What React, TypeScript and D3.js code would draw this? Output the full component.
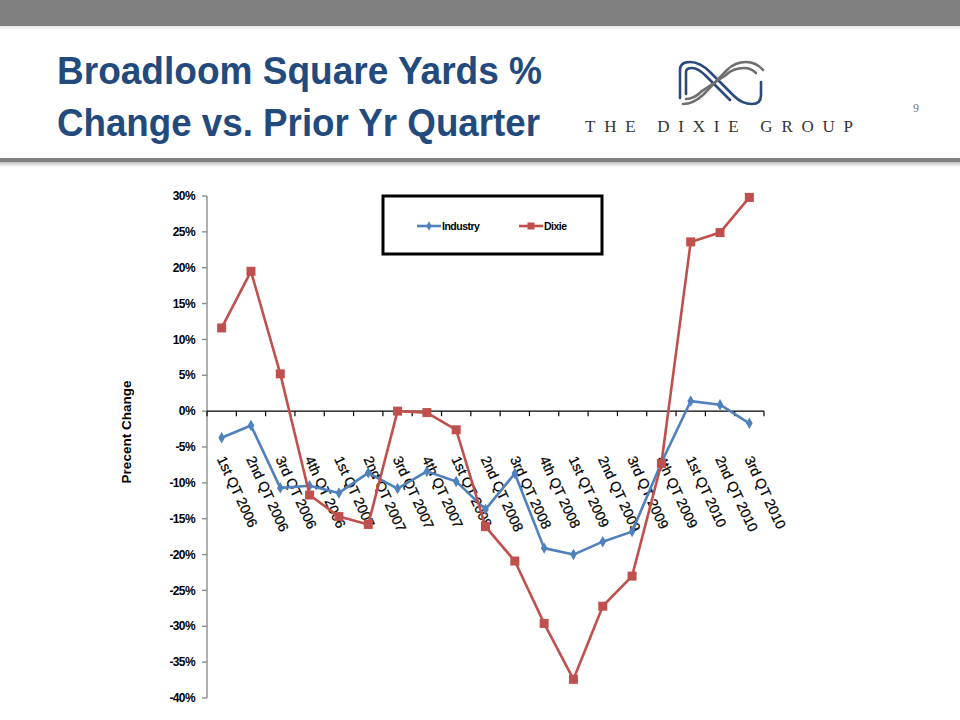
import React from "react";
import * as d3 from "d3";

const categories = [
  "1st QT 2006", "2nd QT 2006", "3rd QT 2006", "4th QT 2006",
  "1st QT 2007", "2nd QT 2007", "3rd QT 2007", "4th QT 2007",
  "1st QT 2008", "2nd QT 2008", "3rd QT 2008", "4th QT 2008",
  "1st QT 2009", "2nd QT 2009", "3rd QT 2009", "4th QT 2009",
  "1st QT 2010", "2nd QT 2010", "3rd QT 2010",
];
const industry = [
  -3.7, -2.0, -10.7, -10.4, -11.4, -8.6, -10.8, -8.4, -9.8, -13.7,
  -8.7, -19.1, -20.0, -18.2, -16.8, -7.2, 1.4, 0.9, -1.7,
];
const dixie = [
  11.6, 19.5, 5.2, -11.7, -14.7, -15.8, 0.0, -0.2, -2.6, -16.1,
  -20.9, -29.6, -37.4, -27.2, -23.0, -7.3, 23.6, 24.9, 29.8,
];
const yTicks = [30, 25, 20, 15, 10, 5, 0, -5, -10, -15, -20, -25, -30, -35, -40];
const seriesNames = ["Industry", "Dixie"];

const BLUE = "#4F81BD";
const RED = "#C0504D";

export default function App() {
  const x0 = 207, x1 = 764, yTop = 196, yBot = 698;
  const x = d3.scaleBand<string>().domain(categories).range([x0, x1]).padding(0);
  const y = d3.scaleLinear().domain([-40, 30]).range([yBot, yTop]);
  const cx = (c: string) => (x(c) as number) + x.bandwidth() / 2;
  const line = d3.line<number>().x((_, i) => cx(categories[i])).y((v) => y(v));
  const boundaries = d3.range(categories.length + 1).map((i) => x0 + i * x.bandwidth());
  const y0 = y(0);
  const diamond = d3.symbol().type(d3.symbolDiamond).size(38)();

  const tickFont = { fontFamily: "Arial, 'Liberation Sans', sans-serif" };

  return (
    <svg width={960} height={720} style={{ position: "absolute", left: 0, top: 0, background: "#fff" }}>
      <defs>
        <linearGradient id="shadowBelow" x1="0" y1="0" x2="0" y2="1">
          <stop offset="0" stopColor="#bfbfbf" />
          <stop offset="1" stopColor="#ffffff" />
        </linearGradient>
      </defs>
      {/* header */}
      <rect x={0} y={0} width={960} height={26} fill="#808080" />
      <rect x={0} y={26} width={960} height={4} fill="url(#shadowBelow)" opacity={0.4} />
      <rect x={0} y={158} width={960} height={4} fill="#7f7f7f" />
      <rect x={0} y={162} width={960} height={5} fill="url(#shadowBelow)" />
      <text x={57} y={84} fill="#234a7c" fontWeight="bold" fontSize={38} textLength={485}
        lengthAdjust="spacingAndGlyphs" style={tickFont}>Broadloom Square Yards %</text>
      <text x={57} y={136} fill="#234a7c" fontWeight="bold" fontSize={38} textLength={483}
        lengthAdjust="spacingAndGlyphs" style={tickFont}>Change vs. Prior Yr Quarter</text>

      {/* logo */}
      <g fill="none" strokeWidth={2.6} strokeLinecap="round">
        <path d="M680 98 V70 Q680 62 690 62 Q700 62 710 72 L734 96 Q742 104 752 104 Q761 104 761 95 V82" stroke="#2b4a7c" />
        <path d="M686 94 V72 Q686 68 692 68 Q698 68 706 76 L730 100" stroke="#2b4a7c" />
        <path d="M683 104 Q693 104 703 95 L727 70 Q735 62 746 62 Q756 62 763 70" stroke="#6f6f6f" />
        <path d="M686 99 Q694 99 702 91 L726 75 Q733 68 744 68 Q751 68 756 73" stroke="#6f6f6f" />
      </g>
      <text x={585} y={132} fill="#333" fontSize={17} textLength={268} lengthAdjust="spacing"
        fontFamily="'Liberation Serif', 'DejaVu Serif', serif">THE DIXIE GROUP</text>
      <text x={913} y={112} fill="#777" fontSize={12} fontFamily="'Liberation Serif', serif">9</text>

      {/* axes */}
      <line x1={x0} x2={x0} y1={yTop} y2={yBot} stroke="#868686" strokeWidth={1.3} />
      {yTicks.map((t) => (
        <g key={t}>
          <line x1={x0 - 5} x2={x0} y1={y(t)} y2={y(t)} stroke="#868686" strokeWidth={1.3} />
          <text x={195} y={y(t)} dy="0.35em" textAnchor="end" fontSize={12} fontWeight="bold"
            letterSpacing={-0.6} fill="#000" style={tickFont}>{`${t}%`}</text>
        </g>
      ))}
      <line x1={x0} x2={x1} y1={y0} y2={y0} stroke="#000" strokeWidth={1.3} />
      {boundaries.map((bx, i) => (
        <line key={i} x1={bx} x2={bx} y1={y0} y2={y0 + 5} stroke="#000" strokeWidth={1.2} />
      ))}
      {categories.map((c) => (
        <text key={c} transform={`translate(${cx(c) - 5},${459}) rotate(65)`} fontSize={14}
          fill="#000" stroke="#000" strokeWidth={0.25} style={tickFont}>{c}</text>
      ))}
      <text transform={`translate(131,432) rotate(-90)`} textAnchor="middle" fontSize={13.5}
        fontWeight="bold" fill="#000" style={tickFont}>Precent Change</text>

      {/* series */}
      <path d={line(industry) || ""} fill="none" stroke={BLUE} strokeWidth={2.6} strokeLinejoin="round" />
      {industry.map((v, i) => (
        <path key={i} d={diamond || ""} transform={`translate(${cx(categories[i])},${y(v)})`} fill={BLUE} />
      ))}
      <path d={line(dixie) || ""} fill="none" stroke={RED} strokeWidth={2.6} strokeLinejoin="round" />
      {dixie.map((v, i) => (
        <rect key={i} x={cx(categories[i]) - 4.5} y={y(v) - 4.5} width={9} height={9} fill={RED} />
      ))}

      {/* legend */}
      <rect x={383} y={196} width={219} height={58} fill="#fff" stroke="#000" strokeWidth={3} />
      <line x1={417} x2={441} y1={226} y2={226} stroke={BLUE} strokeWidth={2.6} />
      <path d={d3.symbol().type(d3.symbolDiamond).size(26)() || ""} transform="translate(429,226)" fill={BLUE} />
      <text x={442} y={226} dy="0.35em" fontSize={10.5} fontWeight="bold" letterSpacing={-0.5}
        style={tickFont}>{seriesNames[0]}</text>
      <line x1={519} x2={543} y1={226} y2={226} stroke={RED} strokeWidth={2.6} />
      <rect x={527.5} y={222.5} width={7} height={7} fill={RED} />
      <text x={544} y={226} dy="0.35em" fontSize={10.5} fontWeight="bold" letterSpacing={-0.5}
        style={tickFont}>{seriesNames[1]}</text>
    </svg>
  );
}
